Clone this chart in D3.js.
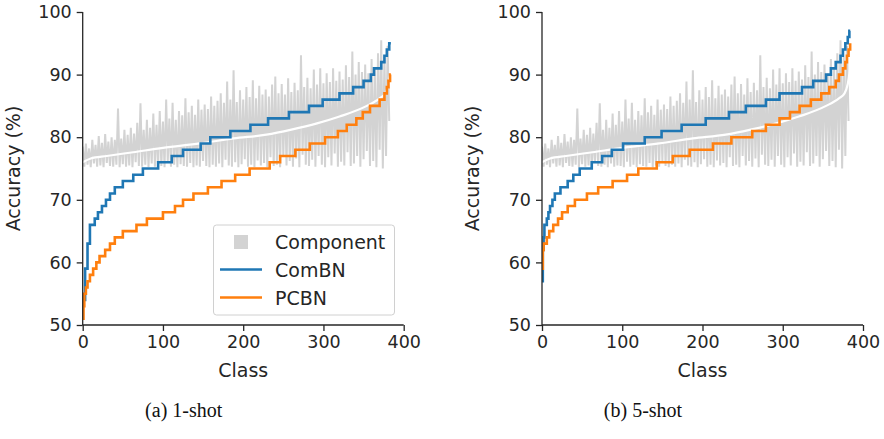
<!DOCTYPE html>
<html>
<head>
<meta charset="utf-8">
<script src="https://cdn.jsdelivr.net/npm/d3@7"></script>
<style>
  body { margin: 0; background: #fff; }
  svg text { font-family: "DejaVu Sans", sans-serif; fill: #262626; }
  svg text.cap { font-family: "Liberation Serif", "DejaVu Serif", serif; fill: #111; }
</style>
</head>
<body>
<svg id="chart" width="884" height="439"></svg>
<script>
// component accuracy per class, sampled every 4 classes (upper / lower swings)
var compHi = [
  78.5, 79.0, 78.2, 79.6, 78.8, 80.2, 79.1, 80.5, 79.3, 80.0,
  79.6, 84.6, 79.8, 81.2, 80.4, 81.5, 80.6, 82.3, 85.4, 81.2,
  82.8, 81.5, 83.8, 82.0, 84.2, 82.5, 86.0, 83.0, 85.5, 82.8,
  84.2, 83.5, 86.2, 84.0, 85.0, 83.6, 86.0, 84.4, 85.2, 84.5,
  86.5, 85.0, 85.8, 87.0, 85.5, 88.9, 86.0, 90.7, 85.6, 87.5,
  86.0, 88.0, 86.4, 89.1, 86.2, 88.2, 86.8, 87.6, 86.5, 88.4,
  89.7, 87.0, 88.5, 86.8, 89.4, 87.2, 88.7, 87.5, 93.1, 88.0,
  89.5, 87.8, 90.8, 88.4, 91.0, 88.6, 90.2, 88.8, 91.0, 89.0,
  90.5, 89.2, 91.5, 89.6, 93.7, 90.0, 92.0, 90.4, 91.6, 90.2,
  92.5, 91.0, 93.4, 95.5, 92.8, 94.6
];
var compLo = [
  75.3, 75.6, 75.2, 75.8, 75.3, 75.5, 75.2, 75.9, 75.4, 75.3,
  75.6, 75.2, 75.7, 75.3, 75.5, 75.2, 76.0, 75.4, 75.3, 75.6,
  75.2, 75.8, 75.3, 75.5, 75.4, 75.2, 76.1, 75.3, 75.6, 75.2,
  75.7, 75.4, 75.3, 75.9, 75.2, 75.5, 75.3, 76.2, 75.4, 75.2,
  75.6, 75.3, 75.8, 75.2, 76.4, 75.5, 75.3, 76.0, 75.2, 75.7,
  76.5, 75.3, 75.6, 75.2, 76.3, 75.5, 75.9, 75.2, 76.8, 75.4,
  75.6, 75.2, 77.0, 75.5, 76.2, 75.3, 76.6, 75.2, 77.2, 75.6,
  75.4, 76.4, 75.3, 77.0, 75.6, 75.2, 76.8, 75.5, 77.4, 75.3,
  76.1, 75.5, 77.6, 75.4, 75.8, 77.0, 75.3, 76.5, 77.8, 75.4,
  76.2, 75.2, 78.0, 75.0, 77.0, 82.6
];
// mean component accuracy (white curve)
var meanClass = [0, 10, 30, 63, 100, 146, 188, 229, 260, 292, 320, 354, 370, 377, 381, 384];
var meanAcc = [76.0, 76.6, 77.0, 77.6, 78.3, 79.0, 79.8, 80.4, 81.2, 82.2, 83.3, 85.0, 86.2, 87.0, 88.5, 91.0];

// sorted per-class accuracy: class index where each level starts, and the level
var comBN1Start = [0, 3, 6, 9, 15, 19, 24, 29, 34, 40, 50, 63, 75, 94, 111, 125, 147, 159, 184, 209, 231, 257, 282, 299, 320, 337, 350, 359, 363, 372, 376, 379, 382];
var comBN1Acc = [54, 59, 63, 66, 67, 68, 69, 70, 71, 72, 73, 74, 75, 76, 77, 78, 79, 80, 81, 82, 83, 84, 85, 86, 87, 88, 89, 90, 91, 92, 93, 94, 95];
var pcbn1Start = [0, 1, 2, 4, 6, 9, 13, 17, 21, 28, 34, 40, 50, 67, 80, 100, 115, 125, 138, 156, 173, 190, 208, 233, 246, 265, 283, 302, 318, 329, 341, 349, 358, 370, 376, 379, 381, 383];
var pcbn1Acc = [51, 53, 55, 56, 57, 58, 59, 60, 61, 62, 63, 64, 65, 66, 67, 68, 69, 70, 71, 72, 73, 74, 75, 76, 77, 78, 79, 80, 81, 82, 83, 84, 85, 86, 87, 88, 89, 90];
var comBN5Start = [0, 1, 2, 3, 6, 8, 10, 13, 16, 23, 32, 39, 47, 62, 75, 87, 101, 128, 149, 174, 204, 233, 254, 279, 296, 324, 338, 354, 360, 366, 372, 375, 378, 381, 383];
var comBN5Acc = [57, 62, 64, 66, 67, 68, 69, 70, 71, 72, 73, 74, 75, 76, 77, 78, 79, 80, 81, 82, 83, 84, 85, 86, 87, 88, 89, 90, 91, 92, 93, 94, 95, 96, 97];
var pcbn5Start = [0, 1, 2, 6, 9, 14, 20, 25, 32, 41, 56, 70, 88, 106, 120, 143, 163, 184, 213, 236, 262, 279, 296, 309, 321, 335, 348, 358, 366, 370, 375, 378, 380, 382, 384];
var pcbn5Acc = [59, 62, 63, 64, 65, 66, 67, 68, 69, 70, 71, 72, 73, 74, 75, 76, 77, 78, 79, 80, 81, 82, 83, 84, 85, 86, 87, 88, 89, 90, 91, 92, 93, 94, 95];

var lastClass = 384;
var xTicks = [0, 100, 200, 300, 400];
var yTicks = [50, 60, 70, 80, 90, 100];
var legendLabels = ["Component", "ComBN", "PCBN"];
var captions = ["(a) 1-shot", "(b) 5-shot"];

var blue = "#1f77b4", orange = "#ff7f0e", grey = "#d3d3d3";

var svg = d3.select("#chart");
var y = d3.scaleLinear().domain([50, 100]).range([325, 12]);

function stepPoints(starts, accs) {
  var pts = starts.map(function(s, i) { return [s, accs[i]]; });
  pts.push([lastClass, accs[accs.length - 1]]);
  return pts;
}

// zigzag the component values so the band looks like the dense per-class line
var compPts = [];
for (var i = 0; i < compHi.length; i++) {
  compPts.push([i * 4, compHi[i]]);
  compPts.push([Math.min(i * 4 + 2, lastClass), compLo[i]]);
}
var meanPts = meanClass.map(function(c, i) { return [c, meanAcc[i]]; });

function drawPanel(x0, comb, pcbn, caption, withLegend, id) {
  var x = d3.scaleLinear().domain([0, 400]).range([x0, x0 + 321]);
  var g = svg.append("g");

  g.append("clipPath").attr("id", "clip" + id)
    .append("rect").attr("x", x0).attr("y", 12).attr("width", 321).attr("height", 313);

  var line = d3.line().x(function(d) { return x(d[0]); }).y(function(d) { return y(d[1]); });
  var plot = g.append("g").attr("clip-path", "url(#clip" + id + ")");

  plot.append("path").attr("d", line(compPts))
    .attr("fill", "none").attr("stroke", grey).attr("stroke-width", 2.0)
    .attr("stroke-linejoin", "bevel");
  plot.append("path").attr("d", line.curve(d3.curveMonotoneX)(meanPts))
    .attr("fill", "none").attr("stroke", "#fff").attr("stroke-width", 2.2);
  line.curve(d3.curveStepAfter);
  plot.append("path").attr("d", line(comb))
    .attr("fill", "none").attr("stroke", blue).attr("stroke-width", 2.6);
  plot.append("path").attr("d", line(pcbn))
    .attr("fill", "none").attr("stroke", orange).attr("stroke-width", 2.6);

  var ax = g.append("g").attr("transform", "translate(0,325)")
    .call(d3.axisBottom(x).tickValues(xTicks).tickSize(6).tickPadding(5));
  var ay = g.append("g").attr("transform", "translate(" + x0 + ",0)")
    .call(d3.axisLeft(y).tickValues(yTicks).tickSize(6).tickPadding(5));
  [ax, ay].forEach(function(a) {
    a.select(".domain").attr("stroke", "#262626").attr("stroke-width", 1.3);
    a.selectAll(".tick line").attr("stroke", "#262626").attr("stroke-width", 1.3);
    a.selectAll(".tick text").attr("font-size", 17.5).attr("font-family", "DejaVu Sans").attr("fill", "#262626");
  });
  // matplotlib-style spine: no end caps
  ax.select(".domain").attr("d", "M" + x0 + ",0H" + (x0 + 321));
  ay.select(".domain").attr("d", "M0,12V325");

  g.append("text").attr("x", x0 + 160.5).attr("y", 377)
    .attr("text-anchor", "middle").attr("font-size", 19).text("Class");
  g.append("text")
    .attr("transform", "translate(" + (x0 - 63) + ",168.5) rotate(-90)")
    .attr("text-anchor", "middle").attr("font-size", 19).text("Accuracy (%)");

  g.append("text").attr("class", "cap").attr("x", x0 + 101).attr("y", 417)
    .attr("text-anchor", "middle").attr("font-size", 20).text(caption);

  if (withLegend) {
    var lg = g.append("g");
    lg.append("rect").attr("x", 213.5).attr("y", 225).attr("width", 181).attr("height", 90)
      .attr("rx", 3).attr("fill", "#fff").attr("fill-opacity", 0.85)
      .attr("stroke", "#d0d0d0").attr("stroke-width", 1);
    lg.append("rect").attr("x", 234).attr("y", 235).attr("width", 14).attr("height", 14).attr("fill", grey);
    lg.append("line").attr("x1", 220).attr("x2", 262).attr("y1", 269.5).attr("y2", 269.5)
      .attr("stroke", blue).attr("stroke-width", 2.6);
    lg.append("line").attr("x1", 220).attr("x2", 262).attr("y1", 297.5).attr("y2", 297.5)
      .attr("stroke", orange).attr("stroke-width", 2.6);
    legendLabels.forEach(function(t, i) {
      lg.append("text").attr("x", 275).attr("y", 242 + i * 28).attr("dy", "0.35em")
        .attr("font-size", 19).text(t);
    });
  }
}

drawPanel(82.7, stepPoints(comBN1Start, comBN1Acc), stepPoints(pcbn1Start, pcbn1Acc), captions[0], true, 1);
drawPanel(542, stepPoints(comBN5Start, comBN5Acc), stepPoints(pcbn5Start, pcbn5Acc), captions[1], false, 2);
</script>
</body>
</html>
